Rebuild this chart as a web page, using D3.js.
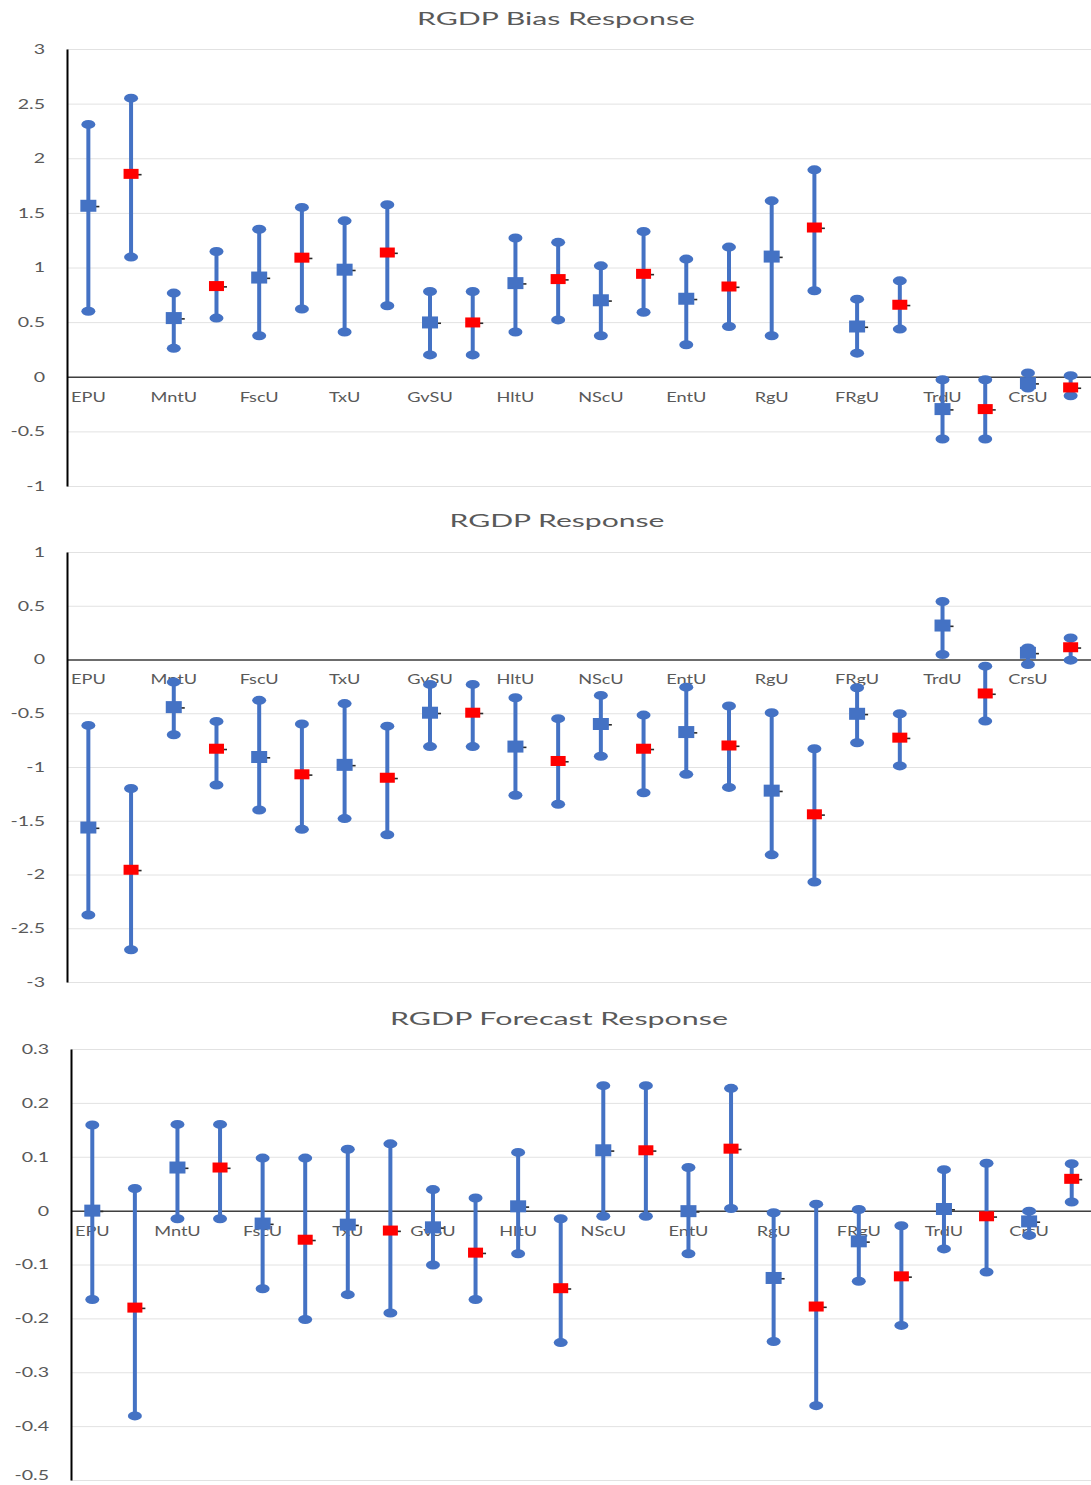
<!DOCTYPE html>
<html>
<head>
<meta charset="utf-8">
<script src="https://cdn.jsdelivr.net/npm/d3@7"></script>
<style>
  html, body { margin: 0; padding: 0; background: #fff; }
  svg { display: block; }
</style>
</head>
<body>
<svg id="chart" width="1091" height="1485"></svg>
<script>
// ---------------- DATA ----------------
const categories = ["EPU","MntU","FscU","TxU","GvSU","HltU","NScU","EntU","RgU","FRgU","TrdU","CrsU"];

// RGDP Bias Response
const biasBlueMid = [1.565, 0.537, 0.908, 0.98, 0.497, 0.857, 0.70, 0.714, 1.10, 0.46, -0.296, -0.058];
const biasBlueHi  = [2.31, 0.766, 1.35, 1.427, 0.78, 1.27, 1.015, 1.077, 1.61, 0.71, -0.027, 0.034];
const biasBlueLo  = [0.60, 0.26, 0.375, 0.41, 0.20, 0.41, 0.375, 0.293, 0.375, 0.216, -0.57, -0.103];
const biasRedMid  = [1.857, 0.83, 1.09, 1.137, 0.497, 0.894, 0.942, 0.826, 1.366, 0.659, -0.296, -0.098];
const biasRedHi   = [2.55, 1.146, 1.55, 1.574, 0.78, 1.23, 1.33, 1.187, 1.894, 0.878, -0.027, 0.01];
const biasRedLo   = [1.095, 0.537, 0.62, 0.65, 0.20, 0.52, 0.59, 0.46, 0.787, 0.436, -0.57, -0.174];
const biasTicks   = [-1, -0.5, 0, 0.5, 1, 1.5, 2, 2.5, 3];

// RGDP Response
const respBlueMid = [-1.563, -0.443, -0.907, -0.98, -0.495, -0.81, -0.60, -0.675, -1.22, -0.505, 0.316, 0.062];
const respBlueHi  = [-0.613, -0.21, -0.38, -0.41, -0.232, -0.356, -0.334, -0.257, -0.495, -0.263, 0.54, 0.108];
const respBlueLo  = [-2.377, -0.70, -1.40, -1.48, -0.81, -1.263, -0.90, -1.068, -1.817, -0.774, 0.046, -0.046];
const respRedMid  = [-1.956, -0.83, -1.068, -1.10, -0.495, -0.944, -0.83, -0.80, -1.44, -0.727, -0.316, 0.114];
const respRedHi   = [-1.20, -0.576, -0.60, -0.62, -0.232, -0.55, -0.517, -0.433, -0.83, -0.505, -0.062, 0.20];
const respRedLo   = [-2.70, -1.167, -1.58, -1.63, -0.81, -1.346, -1.24, -1.19, -2.07, -0.99, -0.573, -0.006];
const respTicks   = [-3, -2.5, -2, -1.5, -1, -0.5, 0, 0.5, 1];

// RGDP Forecast Response
const fcBlueMid = [0.0, 0.080, -0.024, -0.026, -0.031, 0.008, 0.112, -0.001, -0.125, -0.057, 0.003, -0.02];
const fcBlueHi  = [0.159, 0.16, 0.0975, 0.114, 0.039, 0.108, 0.232, 0.080, -0.004, 0.002, 0.076, -0.001];
const fcBlueLo  = [-0.165, -0.015, -0.145, -0.156, -0.101, -0.08, -0.0105, -0.08, -0.243, -0.131, -0.071, -0.046];
const fcRedMid  = [-0.18, 0.080, -0.054, -0.037, -0.078, -0.144, 0.112, 0.115, -0.178, -0.122, -0.0105, 0.059];
const fcRedHi   = [0.041, 0.16, 0.0975, 0.124, 0.0235, -0.015, 0.232, 0.227, 0.012, -0.028, 0.088, 0.087];
const fcRedLo   = [-0.381, -0.015, -0.202, -0.19, -0.165, -0.245, -0.0105, 0.004, -0.362, -0.213, -0.114, 0.016];
const fcTicks   = [-0.5, -0.4, -0.3, -0.2, -0.1, 0, 0.1, 0.2, 0.3];

const titles = ["RGDP Bias Response", "RGDP Response", "RGDP Forecast Response"];

// ---------------- LAYOUT ----------------
const panels = [
  { title: titles[0], titleX: 556, titleY: 25, titleW: 278,
    x0: 67, x1: 1092, yTop: 49, yBot: 486, domain: [-1, 3], ticks: biasTicks,
    blue: [biasBlueMid, biasBlueLo, biasBlueHi], red: [biasRedMid, biasRedLo, biasRedHi] },
  { title: titles[1], titleX: 557, titleY: 527, titleW: 215,
    x0: 67, x1: 1092, yTop: 552, yBot: 982, domain: [-3, 1], ticks: respTicks,
    blue: [respBlueMid, respBlueLo, respBlueHi], red: [respRedMid, respRedLo, respRedHi] },
  { title: titles[2], titleX: 559, titleY: 1025, titleW: 338,
    x0: 71, x1: 1093, yTop: 1049, yBot: 1480, domain: [-0.5, 0.3], ticks: fcTicks,
    blue: [fcBlueMid, fcBlueLo, fcBlueHi], red: [fcRedMid, fcRedLo, fcRedHi] }
];

const BLUE = "#4472C4", RED = "#FF0000", TXT = "#595959";
const FONT = "Lato, 'Open Sans', sans-serif";
const svg = d3.select("#chart");
const H = 1485;

const slots = categories.flatMap(c => [c + "|b", c + "|r"]);

panels.forEach(p => {
  const g = svg.append("g");
  const x = d3.scaleBand().domain(slots).range([p.x0, p.x1]).padding(0);
  const y = d3.scaleLinear().domain(p.domain).range([p.yBot, p.yTop]);

  // title
  g.append("text")
    .attr("x", p.titleX).attr("y", p.titleY)
    .attr("text-anchor", "middle")
    .attr("font-family", FONT).attr("font-size", 17)
    .attr("fill", TXT)
    .attr("textLength", p.titleW).attr("lengthAdjust", "spacingAndGlyphs")
    .text(p.title);

  // gridlines
  g.append("g")
    .attr("transform", `translate(${p.x0},0)`)
    .call(d3.axisLeft(y).tickValues(p.ticks).tickSize(-(1091 - p.x0)).tickFormat(""))
    .call(s => s.select(".domain").remove())
    .call(s => s.selectAll("line").attr("stroke", "#e2e2e2").attr("stroke-width", 1));

  // x axis (zero line + category labels)
  const xa = g.append("g")
    .attr("transform", `translate(0,${y(0)})`)
    .call(d3.axisBottom(x).tickSize(0).tickSizeOuter(0)
      .tickFormat(d => d.endsWith("|b") ? d.split("|")[0] : ""));
  xa.select(".domain").attr("stroke", "#404040").attr("stroke-width", 1.5);
  xa.selectAll("text")
    .attr("y", 25).attr("dy", 0)
    .attr("font-family", FONT).attr("font-size", 14)
    .attr("fill", TXT)
    .attr("transform", "scale(1.3,1)");

  // y axis
  const sxT = 1.4;
  const ya = g.append("g")
    .attr("transform", `translate(${p.x0},0)`)
    .call(d3.axisLeft(y).tickValues(p.ticks).tickSize(0).tickSizeOuter(0)
      .tickFormat(d => String(d)));
  ya.select(".domain").attr("stroke", "#000").attr("stroke-width", 2);
  ya.selectAll("text")
    .attr("x", -22 / sxT)
    .attr("dy", d => (y(d) + 7 > H - 2 ? "-0.05em" : "0.32em"))
    .attr("font-family", FONT).attr("font-size", 14)
    .attr("fill", TXT)
    .attr("transform", `scale(${sxT},1)`);

  // series
  const series = [
    { key: "b", vals: p.blue, color: BLUE, w: 16, h: 12 },
    { key: "r", vals: p.red, color: RED, w: 15, h: 10 }
  ];
  series.forEach(s => {
    const data = categories.map((c, i) => ({
      cx: x(c + "|" + s.key) + x.bandwidth() / 2,
      mid: s.vals[0][i], lo: s.vals[1][i], hi: s.vals[2][i]
    }));
    const sg = g.append("g");
    sg.selectAll("line.err").data(data).join("line")
      .attr("class", "err")
      .attr("x1", d => d.cx).attr("x2", d => d.cx)
      .attr("y1", d => y(d.hi)).attr("y2", d => y(d.lo))
      .attr("stroke", BLUE).attr("stroke-width", 4);
    sg.selectAll("ellipse.hi").data(data).join("ellipse")
      .attr("class", "hi")
      .attr("cx", d => d.cx).attr("cy", d => y(d.hi))
      .attr("rx", 7).attr("ry", 4.5).attr("fill", BLUE);
    sg.selectAll("ellipse.lo").data(data).join("ellipse")
      .attr("class", "lo")
      .attr("cx", d => d.cx).attr("cy", d => y(d.lo))
      .attr("rx", 7).attr("ry", 4.5).attr("fill", BLUE);
    sg.selectAll("rect.tail").data(data).join("rect")
      .attr("class", "tail")
      .attr("x", d => d.cx + s.w / 2 - 1).attr("y", d => y(d.mid))
      .attr("width", 4).attr("height", 1.6).attr("fill", "#2a2a2a");
    sg.selectAll("rect.mk").data(data).join("rect")
      .attr("class", "mk")
      .attr("x", d => d.cx - s.w / 2).attr("y", d => y(d.mid) - s.h / 2)
      .attr("width", s.w).attr("height", s.h)
      .attr("fill", s.color);
  });
});
</script>
</body>
</html>
